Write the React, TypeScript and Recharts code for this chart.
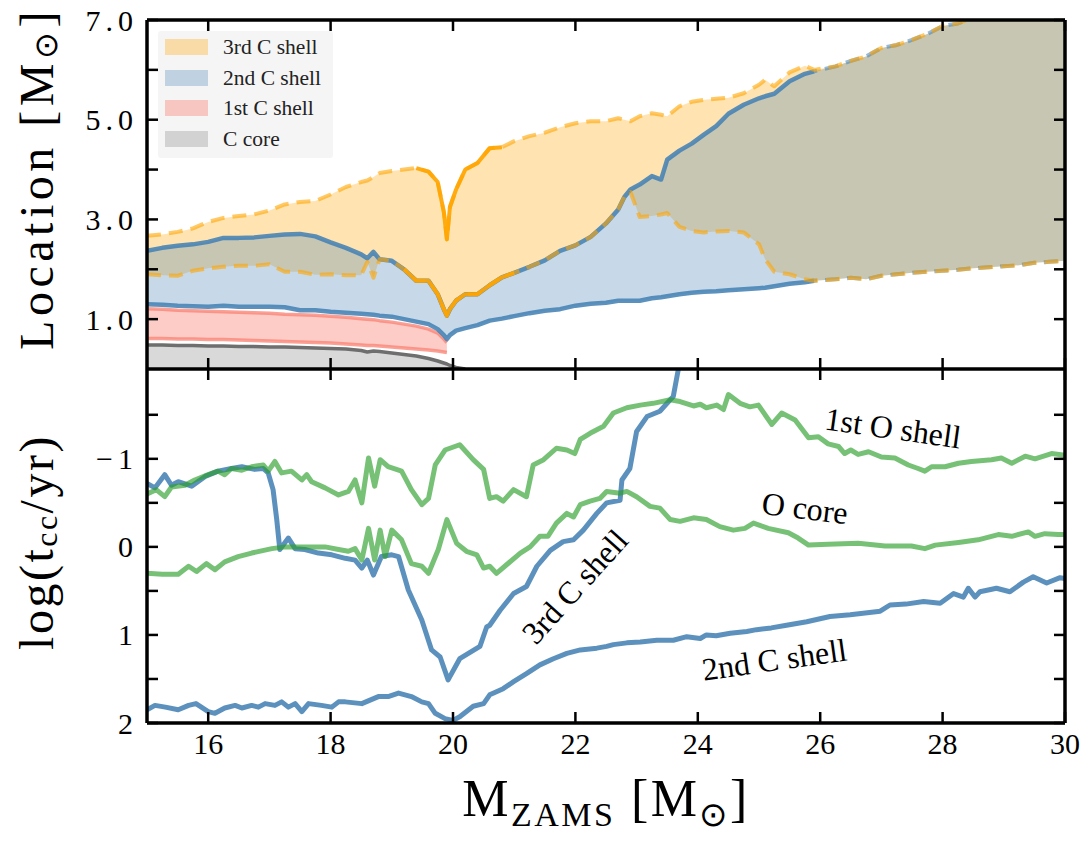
import React from 'react';
import { ComposedChart, Area, Line, XAxis, YAxis, Legend, ReferenceDot, ReferenceLine } from 'recharts';

const FONT = "'Liberation Serif', 'Times New Roman', serif";
const W = 1091;

// ---------- top panel: shell locations on a shared mass grid ----------
const topMass = [15.0, 15.25, 15.5, 15.75, 16.0, 16.25, 16.5, 16.75, 17.0, 17.25, 17.5, 17.75, 18.0, 18.25, 18.5,
  18.6, 18.7, 18.8, 19.0, 19.2, 19.4, 19.6, 19.75, 19.85, 19.9, 19.95, 20.05, 20.2, 20.4, 20.6, 20.8, 21.0,
  21.25, 21.5, 21.75, 22.0, 22.25, 22.5, 22.7, 22.8, 22.9, 23.05, 23.25, 23.4, 23.5, 23.7, 23.9,
  24.1, 24.3, 24.5, 24.75, 25.0, 25.1, 25.25, 25.5, 25.75, 25.9,
  26.25, 26.5, 26.75, 27.0, 27.25, 27.5, 27.75, 28.0, 28.25, 28.5, 28.75, 29.0, 29.25, 29.5, 29.75, 30.0];

const coreTop = [0.48, 0.48, 0.47, 0.47, 0.46, 0.46, 0.45, 0.45, 0.44, 0.44, 0.43, 0.42, 0.41, 0.40, 0.37,
  0.34, 0.36, 0.35, 0.32, 0.29, 0.26, 0.21, 0.16, 0.12, 0.10, 0.07, 0.03, 0.0];

const shell1Lo = [0.61, 0.61, 0.6, 0.6, 0.59, 0.59, 0.58, 0.57, 0.56, 0.55, 0.54, 0.53, 0.52, 0.5, 0.48,
  0.47, 0.47, 0.46, 0.44, 0.42, 0.4, 0.38, 0.36, 0.34, 0.33];
const shell1Hi = [1.21, 1.2, 1.18, 1.17, 1.16, 1.15, 1.14, 1.13, 1.12, 1.1, 1.09, 1.08, 1.06, 1.04, 1.01,
  1.0, 0.99, 0.97, 0.94, 0.9, 0.86, 0.8, 0.72, 0.6, 0.53];

const shell2Lo = [1.3, 1.29, 1.27, 1.26, 1.25, 1.27, 1.25, 1.25, 1.25, 1.24, 1.18, 1.18, 1.15, 1.13, 1.11,
  1.1, 1.09, 1.07, 1.05, 1.0, 0.95, 0.9, 0.8, 0.68, 0.6, 0.68, 0.77, 0.82, 0.88, 0.97, 1.01, 1.06,
  1.12, 1.17, 1.2, 1.27, 1.31, 1.33, 1.37, 1.37, 1.37, 1.37, 1.42, 1.44, 1.46, 1.5, 1.53,
  1.55, 1.56, 1.58, 1.6, 1.62, 1.63, 1.66, 1.71, 1.74, 1.77,
  1.8, 1.83, 1.8, 1.87, 1.9, 1.93, 1.95, 1.97, 1.99, 2.02, 2.04, 2.06, 2.08, 2.13, 2.15, 2.17];
const shell2Hi = [2.37, 2.43, 2.47, 2.5, 2.55, 2.63, 2.63, 2.64, 2.67, 2.7, 2.71, 2.66, 2.54, 2.43, 2.3,
  2.22, 2.35, 2.2, 2.17, 2.0, 1.77, 1.77, 1.5, 1.2, 1.07, 1.2, 1.37, 1.5, 1.5, 1.68, 1.84, 1.93,
  2.05, 2.18, 2.37, 2.48, 2.65, 2.92, 3.2, 3.45, 3.6, 3.7, 3.87, 3.8, 4.2, 4.38, 4.52,
  4.7, 4.87, 5.12, 5.3, 5.43, 5.47, 5.52, 5.77, 5.92, 5.97,
  6.07, 6.18, 6.27, 6.44, 6.5, 6.6, 6.72, 6.88, 6.93, 7.05, 7.12, 7.2, 7.27, 7.33, 7.4, 7.45];

const shell3Lo = [1.9, 1.88, 1.87, 1.97, 2.02, 2.05, 2.07, 2.07, 2.1, 1.95, 1.95, 1.89, 1.9, 1.88, 1.88,
  2.15, 1.83, 2.2, 2.17, 2.0, 1.77, 1.77, 1.5, 1.2, 1.07, 1.2, 1.37, 1.5, 1.5, 1.68, 1.84, 1.93,
  2.05, 2.18, 2.37, 2.48, 2.65, 2.92, 3.2, 3.45, 3.55, 3.05, 3.07, 3.1, 3.13, 2.85, 2.77,
  2.74, 2.76, 2.77, 2.74, 2.5, 2.2, 1.95, 1.9, 1.8, 1.77,
  1.8, 1.83, 1.8, 1.87, 1.9, 1.93, 1.95, 1.97, 1.99, 2.02, 2.04, 2.06, 2.08, 2.13, 2.15, 2.17];
const shell3Hi = [2.67, 2.7, 2.75, 2.82, 2.95, 3.03, 3.07, 3.1, 3.18, 3.3, 3.35, 3.37, 3.5, 3.65, 3.75,
  3.78, 3.85, 3.93, 3.97, 4.0, 4.03, 3.96, 3.75, 3.15, 2.6, 3.25, 3.6, 4.0, 4.13, 4.43, 4.45, 4.57,
  4.67, 4.74, 4.85, 4.93, 4.97, 4.97, 5.03, 5.0, 4.97, 5.07, 5.13, 5.1, 5.07, 5.27, 5.36,
  5.4, 5.42, 5.44, 5.53, 5.7, 5.8, 5.67, 5.95, 6.08, 6.0,
  6.07, 6.18, 6.27, 6.44, 6.5, 6.6, 6.72, 6.88, 6.93, 7.05, 7.12, 7.2, 7.27, 7.33, 7.4, 7.45];

// ---------- bottom panel: log(t_cc/yr) vs mass ----------
const oShell1Pts = [[15.0, -0.6], [15.15, -0.65], [15.29, -0.57], [15.4, -0.68], [15.62, -0.7], [15.78, -0.76], [16.0, -0.82],
  [16.16, -0.86], [16.27, -0.82], [16.38, -0.89], [16.55, -0.87], [16.71, -0.91], [16.9, -0.93], [16.98, -0.86], [17.09, -0.97],
  [17.2, -0.84], [17.36, -0.86], [17.53, -0.76], [17.61, -0.82], [17.69, -0.74], [17.91, -0.67], [18.13, -0.59], [18.29, -0.63],
  [18.4, -0.76], [18.51, -0.5], [18.62, -1.01], [18.72, -0.69], [18.81, -0.99], [18.94, -0.91], [19.16, -0.86], [19.32, -0.65],
  [19.49, -0.48], [19.6, -0.55], [19.71, -0.93], [19.87, -1.1], [20.03, -1.14], [20.11, -1.16], [20.33, -0.99], [20.5, -0.88],
  [20.6, -0.55], [20.71, -0.57], [20.82, -0.52], [20.99, -0.65], [21.2, -0.57], [21.31, -0.93], [21.48, -0.99], [21.69, -1.12],
  [21.86, -1.1], [21.99, -1.06], [22.08, -1.22], [22.24, -1.29], [22.46, -1.37], [22.62, -1.52], [22.84, -1.58], [23.06, -1.61],
  [23.27, -1.63], [23.55, -1.67], [23.71, -1.65], [23.93, -1.6], [24.04, -1.62], [24.14, -1.58], [24.31, -1.61], [24.42, -1.56],
  [24.5, -1.73], [24.69, -1.63], [24.85, -1.59], [24.99, -1.61], [25.21, -1.39], [25.37, -1.52], [25.59, -1.44], [25.81, -1.24],
  [25.97, -1.25], [26.13, -1.17], [26.3, -1.14], [26.4, -1.06], [26.5, -1.1], [26.62, -1.05], [26.79, -1.08], [27.0, -1.02],
  [27.22, -1.01], [27.44, -0.93], [27.6, -0.89], [27.71, -0.86], [27.82, -0.91], [28.04, -0.91], [28.26, -0.95], [28.47, -0.97],
  [28.8, -0.99], [28.96, -1.01], [29.13, -0.95], [29.35, -1.03], [29.51, -1.0], [29.78, -1.06], [30.0, -1.04]];

const oCorePts = [[15.0, 0.3], [15.25, 0.31], [15.51, 0.31], [15.68, 0.22], [15.81, 0.28], [15.97, 0.19], [16.11, 0.26],
  [16.27, 0.17], [16.49, 0.11], [16.71, 0.07], [17.04, 0.02], [17.26, 0.0], [17.58, 0.0], [17.91, 0.0], [18.13, 0.03],
  [18.29, 0.05], [18.4, 0.02], [18.51, 0.15], [18.62, -0.21], [18.72, 0.15], [18.81, -0.19], [18.89, 0.11], [19.0, -0.19],
  [19.16, -0.08], [19.32, 0.19], [19.49, 0.22], [19.6, 0.3], [19.76, 0.03], [19.9, -0.31], [20.06, -0.04], [20.22, 0.05],
  [20.39, 0.09], [20.5, 0.24], [20.6, 0.22], [20.71, 0.3], [20.88, 0.2], [21.1, 0.07], [21.26, 0.0], [21.42, -0.12],
  [21.55, -0.12], [21.69, -0.27], [21.86, -0.38], [21.97, -0.34], [22.08, -0.48], [22.24, -0.52], [22.4, -0.55], [22.51, -0.63],
  [22.73, -0.61], [22.84, -0.63], [23.0, -0.57], [23.22, -0.46], [23.38, -0.44], [23.55, -0.31], [23.71, -0.29], [23.93, -0.33],
  [24.14, -0.31], [24.36, -0.23], [24.58, -0.19], [24.77, -0.21], [24.91, -0.27], [25.15, -0.21], [25.48, -0.16], [25.64, -0.1],
  [25.81, -0.02], [26.13, -0.03], [26.62, -0.04], [27.06, -0.01], [27.49, -0.01], [27.71, 0.02], [27.88, -0.02], [28.26, -0.05],
  [28.58, -0.08], [28.91, -0.14], [29.13, -0.12], [29.4, -0.17], [29.51, -0.12], [29.67, -0.15], [29.89, -0.14], [30.0, -0.14]];

const cShell3Pts = [[15.0, -0.72], [15.13, -0.67], [15.29, -0.82], [15.4, -0.7], [15.51, -0.74], [15.73, -0.69], [15.95, -0.8],
  [16.16, -0.86], [16.38, -0.89], [16.55, -0.91], [16.76, -0.88], [16.9, -0.89], [16.98, -0.84], [17.06, -0.65], [17.12, -0.31],
  [17.17, 0.03], [17.31, -0.1], [17.42, 0.02], [17.58, 0.03], [17.8, 0.07], [18.02, 0.09], [18.24, 0.13], [18.4, 0.15],
  [18.51, 0.24], [18.6, 0.15], [18.7, 0.32], [18.83, 0.11], [19.0, 0.09], [19.11, 0.11], [19.27, 0.49], [19.49, 0.83],
  [19.65, 1.17], [19.79, 1.25], [19.92, 1.51], [20.11, 1.27], [20.44, 1.13], [20.55, 0.91], [20.6, 0.89], [20.77, 0.72],
  [20.99, 0.53], [21.2, 0.45], [21.37, 0.22], [21.59, 0.04], [21.8, -0.06], [21.97, -0.08], [22.13, -0.19], [22.35, -0.38],
  [22.51, -0.5], [22.73, -0.53], [22.76, -0.76], [22.89, -0.89], [23.0, -1.31], [23.17, -1.48], [23.38, -1.54], [23.6, -1.71],
  [23.68, -2.01], [23.75, -2.6]];

const cShell2Pts = [[15.0, 1.85], [15.13, 1.8], [15.3, 1.82], [15.51, 1.85], [15.68, 1.8], [15.8, 1.78], [16.0, 1.87],
  [16.11, 1.89], [16.27, 1.83], [16.44, 1.8], [16.55, 1.83], [16.71, 1.8], [16.82, 1.82], [16.93, 1.78], [17.09, 1.8],
  [17.2, 1.76], [17.31, 1.82], [17.42, 1.78], [17.53, 1.87], [17.64, 1.78], [17.85, 1.8], [18.02, 1.82], [18.13, 1.76],
  [18.24, 1.76], [18.51, 1.78], [18.78, 1.7], [18.94, 1.7], [19.11, 1.66], [19.32, 1.7], [19.49, 1.76], [19.6, 1.78],
  [19.71, 1.89], [19.87, 1.95], [20.0, 1.97], [20.11, 1.93], [20.33, 1.81], [20.5, 1.78], [20.6, 1.68], [20.82, 1.61],
  [20.99, 1.53], [21.2, 1.44], [21.42, 1.34], [21.64, 1.27], [21.86, 1.21], [22.08, 1.17], [22.35, 1.15], [22.51, 1.13],
  [22.62, 1.11], [22.84, 1.09], [23.06, 1.08], [23.33, 1.06], [23.6, 1.06], [23.82, 1.02], [24.04, 1.04], [24.14, 1.0],
  [24.3, 1.01], [24.53, 0.98], [24.8, 0.96], [24.96, 0.94], [25.2, 0.92], [25.45, 0.89], [25.78, 0.85], [26.16, 0.79],
  [26.49, 0.77], [26.98, 0.73], [27.14, 0.66], [27.4, 0.65], [27.69, 0.62], [27.96, 0.64], [28.18, 0.53], [28.34, 0.57],
  [28.42, 0.47], [28.53, 0.57], [28.61, 0.51], [28.88, 0.47], [29.1, 0.51], [29.32, 0.4], [29.48, 0.34], [29.7, 0.41],
  [29.92, 0.35], [30.0, 0.36]];

// ---------- ticks, legend, annotations ----------
const massRange = [15, 30];
const locRange = [0, 7];
const logRange = [-2.02, 2];
const massTicks = [16, 18, 20, 22, 24, 26, 28, 30];
const locTicks = [1, 2, 3, 4, 5, 6, 7];
const locLabelled = [1, 3, 5, 7];
const logTicks = [-1.5, -1, -0.5, 0, 0.5, 1, 1.5, 2];
const logLabelled = [-1, 0, 1, 2];

const legendItems = [
  { name: '3rd C shell', color: '#ffa500', opacity: 0.32 },
  { name: '2nd C shell', color: '#4682b4', opacity: 0.3 },
  { name: '1st C shell', color: '#fa8072', opacity: 0.4 },
  { name: 'C core', color: '#808080', opacity: 0.3 },
];

const annotations = [
  { text: '1st O shell', m: 27.19, v: -1.35, angle: 8 },
  { text: 'O core', m: 25.75, v: -0.44, angle: 7 },
  { text: '3rd C shell', m: 21.99, v: 0.45, angle: -48 },
  { text: '2nd C shell', m: 25.25, v: 1.28, angle: -8 },
];

const BLUE = '#4682b4';
const GREEN = '#2ca02c';
const ORANGE = '#ffa500';
const SALMON = '#fa8072';

const at = (arr: number[], i: number) => (i < arr.length ? arr[i] : null);

const topRows = topMass.map((m, i) => {
  const c = at(coreTop, i);
  const a = at(shell1Lo, i), b = at(shell1Hi, i);
  const p = at(shell2Lo, i), q = at(shell2Hi, i);
  const r = at(shell3Lo, i), s = at(shell3Hi, i);
  return {
    m,
    core: c,
    s1: a != null ? [a, b] : null,
    s2: p != null ? [p, q] : null,
    s3: r != null ? [r, s] : null,
    s1Lo: a, s1Hi: b,
    s2LoSolid: m <= 25.9 ? p : null, s2HiSolid: m <= 25.9 ? q : null,
    s2LoDash: m >= 25.9 ? p : null, s2HiDash: m >= 25.9 ? q : null,
    s3Lo: r, s3Hi: s,
    s3HiSolid: m >= 19.4 && m <= 20.8 ? s : null,
    s3LoSolid: m >= 19.2 && m <= 21.0 ? r : null,
  };
});

const bottomRows = (() => {
  const map = new Map<number, any>();
  const put = (pts: number[][], key: string) => pts.forEach(([m, v]) => {
    const row = map.get(m) ?? { m };
    row[key] = v;
    map.set(m, row);
  });
  put(oShell1Pts, 'oShell1');
  put(oCorePts, 'oCore');
  put(cShell3Pts, 'cShell3');
  put(cShell2Pts, 'cShell2');
  return [...map.values()].sort((x, y) => x.m - y.m);
})();

const tickStroke = { stroke: '#000', strokeWidth: 2.5 };
const NoLabel = () => <g />;

const LeftTick = (props: any) => {
  const { x, y, payload, labelled, decimals } = props;
  const v = payload.value;
  if (!labelled.some((l: number) => Math.abs(l - v) < 1e-9)) return <g />;
  const txt = decimals ? v.toFixed(decimals) : (v < 0 ? '\u2212' + Math.abs(v) : String(v));
  return (
    <text x={x + 5} y={y} textAnchor="end" dominantBaseline="central" fontFamily={FONT} fontSize={30}
      letterSpacing={5} fill="#000">{txt}</text>
  );
};

const BottomTick = (props: any) => {
  const { x, y, payload } = props;
  return (
    <text x={x} y={y + 23} textAnchor="middle" fontFamily={FONT} fontSize={30} fill="#000">{payload.value}</text>
  );
};

const YTitle = ({ viewBox, kind }: any) => {
  const isLoc = kind === 'loc';
  const cx = (viewBox?.x ?? 0) + 36;
  const cy = (viewBox?.y ?? 0) + (viewBox?.height ?? 0) / 2 - (isLoc ? 16 : 4);
  return (
    <text x={cx} y={cy} transform={`rotate(-90 ${cx} ${cy})`} textAnchor="middle" dominantBaseline="central"
      fontFamily={FONT} fontSize={48} letterSpacing={isLoc ? 4.5 : 2.5} fill="#000">
      {isLoc ? (
        <>
          Location [M<tspan dy={10} fontSize={32}>{'\u2299'}</tspan><tspan dy={-10}>]</tspan>
        </>
      ) : (
        <>
          log(t<tspan dy={10} fontSize={32}>cc</tspan><tspan dy={-10}>/yr)</tspan>
        </>
      )}
    </text>
  );
};

const XTitle = ({ viewBox }: any) => {
  const cx = (viewBox?.x ?? 0) + (viewBox?.width ?? 0) / 2;
  const cy = (viewBox?.y ?? 0) + 93;
  return (
    <text x={cx} y={cy} textAnchor="middle" fontFamily={FONT} fontSize={52} letterSpacing={2.5} fill="#000">
      M<tspan dy={10} fontSize={34}>ZAMS</tspan><tspan dy={-10}> [M</tspan>
      <tspan dy={10} fontSize={34}>{'\u2299'}</tspan><tspan dy={-10}>]</tspan>
    </text>
  );
};

const LegendBox = () => (
  <div style={{ background: 'rgba(244,244,244,0.9)', borderRadius: 3, padding: '1px 0 0 7px', width: 175, height: 127,
    boxSizing: 'border-box', fontFamily: FONT }}>
    {legendItems.map((it) => (
      <div key={it.name} style={{ display: 'flex', alignItems: 'center', height: 30.5 }}>
        <span style={{ width: 43, height: 16, background: it.color, opacity: it.opacity, display: 'inline-block' }} />
        <span style={{ marginLeft: 15, fontSize: 21.5, color: '#222', lineHeight: '20px' }}>{it.name}</span>
      </div>
    ))}
  </div>
);

const lineCommon = { type: 'linear' as const, dot: false, activeDot: false, isAnimationActive: false,
  xAxisId: 'b', yAxisId: 'l', strokeLinejoin: 'round' as const, strokeLinecap: 'butt' as const };

const frameLine = { xAxisId: 'b', yAxisId: 'l', stroke: '#000', strokeWidth: 3.5, ifOverflow: 'visible' as const };

function Frame(yr: number[]) {
  return [
    <ReferenceLine key="fl" {...frameLine} x={massRange[0]} />,
    <ReferenceLine key="fr" {...frameLine} x={massRange[1]} />,
    <ReferenceLine key="fb" {...frameLine} y={yr[0]} />,
    <ReferenceLine key="ft" {...frameLine} y={yr[1]} />,
  ];
}

function MirrorAxes(yr: number[], yTicks: number[], reversed: boolean) {
  return [
    <XAxis key="xbm" xAxisId="bm" dataKey="m" type="number" domain={massRange} allowDataOverflow orientation="bottom" mirror
      height={1} ticks={massTicks} interval={0} tick={<NoLabel />} tickSize={11} tickLine={tickStroke} axisLine={false} />,
    <XAxis key="xtm" xAxisId="tm" dataKey="m" type="number" domain={massRange} allowDataOverflow orientation="top" mirror
      height={1} ticks={massTicks} interval={0} tick={<NoLabel />} tickSize={11} tickLine={tickStroke} axisLine={false} />,
    <YAxis key="ylm" yAxisId="lm" type="number" domain={yr} reversed={reversed} allowDataOverflow orientation="left" mirror
      width={1} ticks={yTicks} interval={0} tick={<NoLabel />} tickSize={11} tickLine={tickStroke} axisLine={false} />,
    <YAxis key="yrm" yAxisId="rm" type="number" domain={yr} reversed={reversed} allowDataOverflow orientation="right" mirror
      width={1} ticks={yTicks} interval={0} tick={<NoLabel />} tickSize={11} tickLine={tickStroke} axisLine={false} />,
  ];
}

function TopPanel() {
  return (
    <ComposedChart width={W} height={369} data={topRows} margin={{ top: 20, right: 26, bottom: 0, left: 0 }}>
      <XAxis xAxisId="b" dataKey="m" type="number" domain={massRange} allowDataOverflow height={0} hide />
      <YAxis yAxisId="l" type="number" domain={locRange} allowDataOverflow width={147} ticks={locTicks} interval={0}
        tickLine={false} tickSize={0} tickMargin={14} tick={<LeftTick labelled={locLabelled} decimals={1} />}
        axisLine={false} label={{ content: (p: any) => <YTitle viewBox={p.viewBox} kind="loc" /> }} />
      {MirrorAxes(locRange, locTicks, false)}

      <Area xAxisId="b" yAxisId="l" type="linear" dataKey="core" fill="#808080" fillOpacity={0.3} stroke="none"
        isAnimationActive={false} activeDot={false} />
      <Area xAxisId="b" yAxisId="l" type="linear" dataKey="s1" fill={SALMON} fillOpacity={0.4} stroke="none"
        isAnimationActive={false} activeDot={false} />
      <Area xAxisId="b" yAxisId="l" type="linear" dataKey="s3" fill={ORANGE} fillOpacity={0.3} stroke="none"
        isAnimationActive={false} activeDot={false} />
      <Area xAxisId="b" yAxisId="l" type="linear" dataKey="s2" fill={BLUE} fillOpacity={0.3} stroke="none"
        isAnimationActive={false} activeDot={false} />

      <Line {...lineCommon} dataKey="core" stroke="#6e6e6e" strokeWidth={3.5} />
      <Line {...lineCommon} dataKey="s1Lo" stroke={SALMON} strokeOpacity={0.75} strokeWidth={3.5} />
      <Line {...lineCommon} dataKey="s1Hi" stroke={SALMON} strokeOpacity={0.75} strokeWidth={3.5} />
      <Line {...lineCommon} dataKey="s2LoSolid" stroke={BLUE} strokeOpacity={0.88} strokeWidth={4.5} />
      <Line {...lineCommon} dataKey="s2HiSolid" stroke={BLUE} strokeOpacity={0.88} strokeWidth={4.5} />
      <Line {...lineCommon} dataKey="s2LoDash" stroke={BLUE} strokeOpacity={0.55} strokeWidth={4} strokeDasharray="14 8" strokeDashoffset={11} />
      <Line {...lineCommon} dataKey="s2HiDash" stroke={BLUE} strokeOpacity={0.55} strokeWidth={4} strokeDasharray="14 8" strokeDashoffset={11} />
      <Line {...lineCommon} dataKey="s3Lo" stroke={ORANGE} strokeOpacity={0.6} strokeWidth={4} strokeDasharray="14 8" />
      <Line {...lineCommon} dataKey="s3Hi" stroke={ORANGE} strokeOpacity={0.6} strokeWidth={4} strokeDasharray="14 8" />
      <Line {...lineCommon} dataKey="s3HiSolid" stroke={ORANGE} strokeOpacity={0.92} strokeWidth={4} />
      <Line {...lineCommon} dataKey="s3LoSolid" stroke={ORANGE} strokeOpacity={0.92} strokeWidth={4} />

      {Frame(locRange)}

      <Legend layout="vertical" align="center" verticalAlign="middle" content={() => <LegendBox />}
        wrapperStyle={{ position: 'absolute', left: 158, top: 31, width: 175, height: 127, margin: 0 }} />
    </ComposedChart>
  );
}

function BottomPanel() {
  return (
    <ComposedChart width={W} height={472} data={bottomRows} margin={{ top: 0, right: 26, bottom: 0, left: 0 }}>
      <XAxis xAxisId="b" dataKey="m" type="number" domain={massRange} allowDataOverflow height={118} ticks={massTicks}
        interval={0} tickLine={false} tickSize={0} tickMargin={8} tick={<BottomTick />} axisLine={false}
        label={{ content: (p: any) => <XTitle viewBox={p.viewBox} /> }} />
      <YAxis yAxisId="l" type="number" domain={logRange} reversed allowDataOverflow width={147} ticks={logTicks}
        interval={0} tickLine={false} tickSize={0} tickMargin={14} tick={<LeftTick labelled={logLabelled} decimals={0} />}
        axisLine={false} label={{ content: (p: any) => <YTitle viewBox={p.viewBox} kind="log" /> }} />
      {MirrorAxes(logRange, logTicks, true)}

      <Line {...lineCommon} dataKey="cShell2" connectNulls stroke={BLUE} strokeOpacity={0.88} strokeWidth={5} />
      <Line {...lineCommon} dataKey="cShell3" connectNulls stroke={BLUE} strokeOpacity={0.88} strokeWidth={5} />
      <Line {...lineCommon} dataKey="oCore" connectNulls stroke={GREEN} strokeOpacity={0.65} strokeWidth={5} />
      <Line {...lineCommon} dataKey="oShell1" connectNulls stroke={GREEN} strokeOpacity={0.65} strokeWidth={5} />

      {annotations.map((a) => (
        <ReferenceDot key={a.text} xAxisId="b" yAxisId="l" x={a.m} y={a.v} r={1}
          shape={(p: any) => (
            <text x={p.cx} y={p.cy} transform={`rotate(${a.angle} ${p.cx} ${p.cy})`} textAnchor="middle"
              dominantBaseline="central" fontFamily={FONT} fontSize={32} fill="#000">{a.text}</text>
          )} />
      ))}

      {Frame(logRange)}
    </ComposedChart>
  );
}

export default function App() {
  return (
    <div style={{ position: 'absolute', left: 0, top: 0, width: W, height: 841, background: '#fff' }}>
      <div style={{ position: 'absolute', left: 0, top: 0 }}>
        <TopPanel />
      </div>
      <div style={{ position: 'absolute', left: 0, top: 369 }}>
        <BottomPanel />
      </div>
    </div>
  );
}
